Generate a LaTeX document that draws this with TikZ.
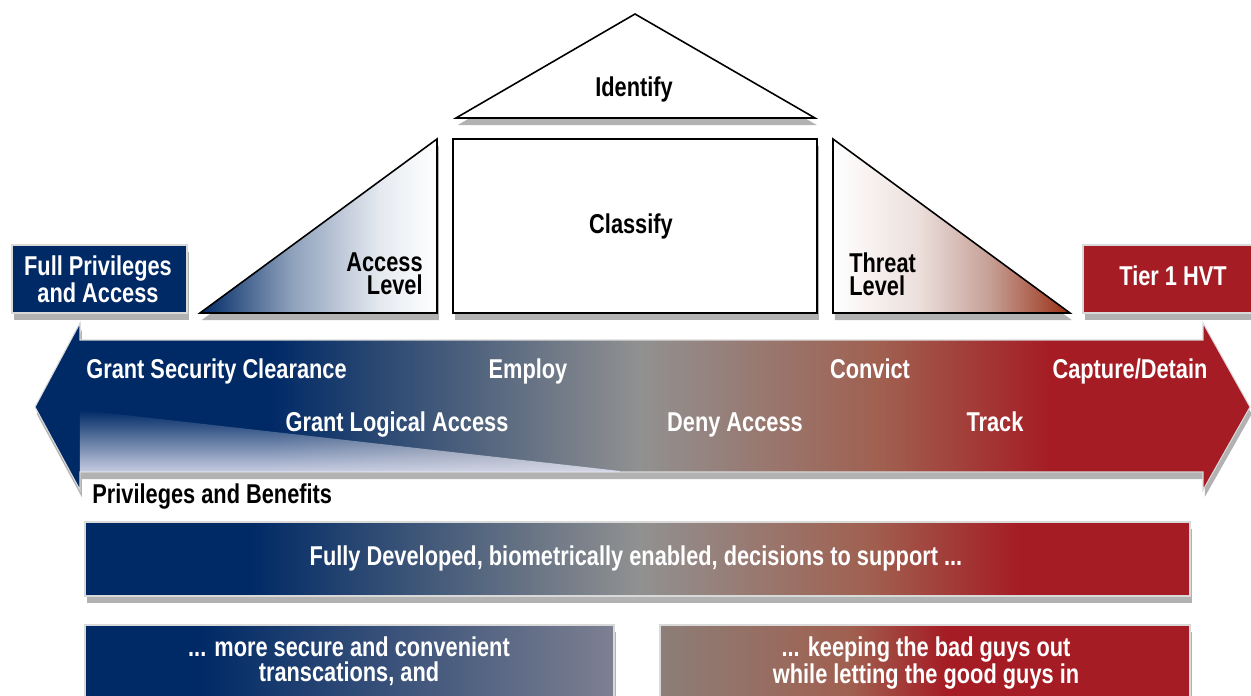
\documentclass[tikz,border=0pt]{standalone}
\usepackage{fontspec}
\newfontfamily\condfont{Liberation Sans}[FakeStretch=0.8]
\usetikzlibrary{shadows,fadings}

\definecolor{hvtnavy}{RGB}{0,42,102}
\definecolor{hvtred}{RGB}{165,28,36}
\definecolor{hvtgrey}{RGB}{145,145,145}
\definecolor{hvtbrown}{RGB}{160,96,80}
\definecolor{hvtslate}{RGB}{125,128,145}
\definecolor{hvttaupe}{RGB}{140,126,120}
\definecolor{hvtlavender}{RGB}{222,224,240}

\pgfdeclarehorizontalshading{arrowshade}{100bp}{color(0bp)=(hvtnavy); color(34.7bp)=(hvtnavy); color(49.9bp)=(hvtgrey); color(59.8bp)=(hvtbrown); color(66.8bp)=(hvtred); color(100bp)=(hvtred)}
\pgfdeclarehorizontalshading{fullshade}{100bp}{color(0bp)=(hvtnavy); color(32.5bp)=(hvtnavy); color(50.1bp)=(hvtgrey); color(60.5bp)=(hvtbrown); color(67.3bp)=(hvtred); color(100bp)=(hvtred)}
\pgfdeclarehorizontalshading{secureshade}{100bp}{color(0bp)=(hvtnavy); color(35.9bp)=(hvtnavy); color(75bp)=(hvtslate); color(100bp)=(hvtslate)}
\pgfdeclarehorizontalshading{keepshade}{100bp}{color(0bp)=(hvttaupe); color(25bp)=(hvttaupe); color(42.9bp)=(hvtbrown); color(52bp)=(hvtred); color(100bp)=(hvtred)}
\pgfdeclarehorizontalshading{accessfade}{100bp}{color(0bp)=(hvtnavy); color(25bp)=(hvtnavy); color(44bp)=(hvtnavy!45!white); color(63bp)=(hvtnavy!10!white); color(75bp)=(white); color(100bp)=(white)}
\pgfdeclarehorizontalshading{threatfade}{100bp}{color(0bp)=(white); color(25bp)=(white); color(43bp)=(hvtbrown!20!white); color(58bp)=(hvtbrown!60!white); color(75bp)=(hvtred!70!orange!80!black); color(100bp)=(hvtred!70!orange!80!black)}

\tikzfading[name=wedgefade, top color=transparent!100, bottom color=transparent!10]

\tikzset{
  hvtshadow/.style={drop shadow={shadow xshift=1pt, shadow yshift=-4pt, opacity=0.3, fill=black}},
  outline/.style={draw=black, line width=0.9pt, hvtshadow},
  colourbox/.style={draw=white!85!black, line width=0.6pt, hvtshadow},
  lbl/.style={font=\condfont\bfseries\fontsize{15.5}{13}\selectfont, inner sep=0pt},
  inlbl/.style={lbl, text=white},
  widelead/.style={font=\condfont\bfseries\fontsize{15.5}{14.2}\selectfont}
}

\begin{document}
\begin{tikzpicture}[x=0.02cm,y=-0.02cm]
        \newcommand{\hvtarrowtop}{340}
        \newcommand{\hvtarrowbot}{472}
        \newcommand{\hvtheadtop}{323}
        \newcommand{\hvtheadbot}{490}
        \newcommand{\hvtheadleft}{80}
        \newcommand{\hvtheadright}{1203}
        \newcommand{\hvtrowa}{378}
        \newcommand{\hvtrowb}{431}
        \useasboundingbox (0,0) rectangle (1251,696);
        \fill[white, outline] (456,118) -- (635,14) -- (815,118) -- cycle;
        \fill[white, outline] (453,139) rectangle (817,313);
        \shade[shading=accessfade, outline] (200,313) -- (437,139) -- (437,313) -- cycle;
        \shade[shading=threatfade, outline] (833,139) -- (1070,313) -- (833,313) -- cycle;
        \fill[hvtnavy, colourbox] (12,245) rectangle (187,313);
        \fill[hvtred, colourbox] (1083,245) rectangle (1262,313);
        \shade[shading=arrowshade, colourbox] (35,407) -- (\hvtheadleft,\hvtheadtop) -- (\hvtheadleft,\hvtarrowtop) -- (\hvtheadright,\hvtarrowtop) -- (\hvtheadright,\hvtheadtop) -- (1250,407) -- (\hvtheadright,\hvtheadbot) -- (\hvtheadright,\hvtarrowbot) -- (\hvtheadleft,\hvtarrowbot) -- (\hvtheadleft,\hvtheadbot) -- cycle;
        \fill[hvtlavender, path fading=wedgefade] (\hvtheadleft,410) -- (620,471) -- (620,\hvtarrowbot) -- (\hvtheadleft,\hvtarrowbot) -- cycle;
        \shade[shading=fullshade, colourbox] (85,522) rectangle (1190,596);
        \shade[shading=secureshade, colourbox] (85,625) rectangle (614,720);
        \shade[shading=keepshade, colourbox] (660,625) rectangle (1190,720);
        \node[lbl, anchor=base] (identify) at (634,97) {Identify};
        \node[lbl, anchor=base] (classify) at (631,233) {Classify};
        \node[lbl, align=right, anchor=east] (accesslvl) at (423,274) {Access\\Level};
        \node[lbl, align=left, anchor=west] (threatlvl) at (849,274) {Threat\\Level};
        \node[inlbl, align=center, font=\condfont\bfseries\fontsize{15.5}{12}\selectfont] (fullpriv) at (98,279) {Full Privileges\\and Access};
        \node[inlbl, anchor=base] (tierone) at (1173,285) {Tier 1 HVT};
        \node[inlbl, anchor=base west] (clearance) at (86,\hvtrowa) {Grant Security Clearance};
        \node[inlbl, anchor=base] (employ) at (528,\hvtrowa) {Employ};
        \node[inlbl, anchor=base] (convict) at (870,\hvtrowa) {Convict};
        \node[inlbl, anchor=base] (capture) at (1130,\hvtrowa) {Capture/Detain};
        \node[inlbl, anchor=base] (logical) at (397,\hvtrowb) {Grant Logical Access};
        \node[inlbl, anchor=base] (deny) at (735,\hvtrowb) {Deny Access};
        \node[inlbl, anchor=base] (track) at (995,\hvtrowb) {Track};
        \node[lbl, anchor=base west] (benefits) at (92,503) {Privileges and Benefits};
        \node[inlbl, anchor=base] (fullydev) at (636,565) {Fully Developed, biometrically enabled, decisions to support ...};
        \node[inlbl, widelead, align=center] (secure) at (349,661) {... more secure and convenient\\transcations, and};
        \node[inlbl, widelead, align=center] (keeping) at (926,663) {... keeping the bad guys out\\while letting the good guys in};
\end{tikzpicture}
\end{document}
